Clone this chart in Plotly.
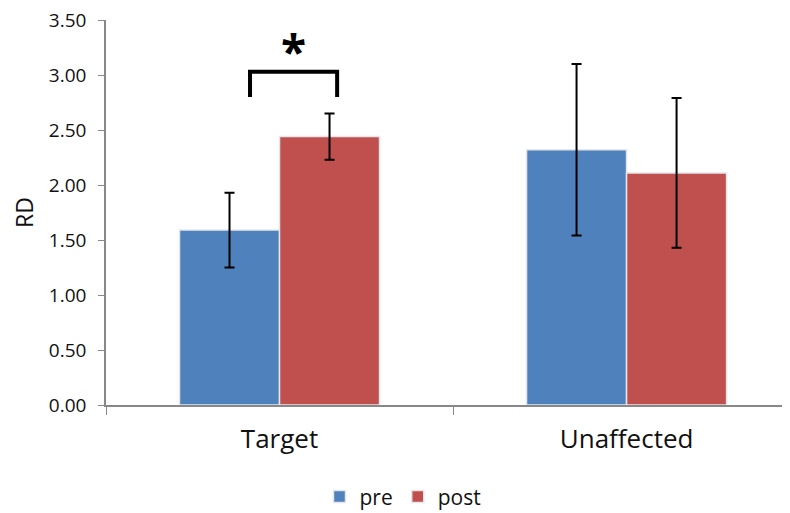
import plotly.graph_objects as go

categories = ["Target", "Unaffected"]
pre_values = [1.59, 2.32]
post_values = [2.44, 2.11]
pre_err = [0.34, 0.78]
post_err = [0.21, 0.68]
series_names = ["pre", "post"]
y_ticks = [0, 0.5, 1.0, 1.5, 2.0, 2.5, 3.0, 3.5]

BLUE = "#4F81BD"
RED = "#C0504D"
FONT = "Open Sans"

fig = go.Figure()
for name, vals, errs, col in [(series_names[0], pre_values, pre_err, BLUE),
                              (series_names[1], post_values, post_err, RED)]:
    fig.add_trace(go.Bar(
        x=categories, y=vals, name=name,
        marker=dict(color=col, line=dict(color="#e4e6ea", width=1.5)),
        error_y=dict(type="data", array=errs, visible=True,
                     color="black", thickness=2, width=5),
    ))

# significance bracket over Target
bx0, bx1, by_top, by_leg = -0.085, 0.166, 3.03, 2.80
fig.add_shape(type="path",
              path=f"M {bx0},{by_leg} L {bx0},{by_top} L {bx1},{by_top} L {bx1},{by_leg}",
              line=dict(color="black", width=4), xref="x", yref="y")
fig.add_annotation(x=(bx0 + bx1) / 2, y=3.22, text="<b>*</b>", showarrow=False,
                   font=dict(size=46, color="black", family=FONT),
                   xref="x", yref="y", yanchor="middle")

fig.update_layout(
    width=790, height=513,
    margin=dict(l=98, r=0, t=12, b=116, autoexpand=False),
    paper_bgcolor="white", plot_bgcolor="white",
    barmode="group", bargap=0.4236, bargroupgap=0,
    font=dict(family=FONT, color="#111111"),
    showlegend=True,
    legend=dict(orientation="h", x=0.5, xanchor="center", xref="container",
                y=0.047, yanchor="middle", yref="container",
                font=dict(size=21, family=FONT), itemwidth=30,
                traceorder="normal"),
)
fig.update_xaxes(
    type="category", range=[-0.5, 1.494], automargin=False,
    showline=True, linecolor="#888888", linewidth=1.5,
    ticks="outside", tickson="boundaries", ticklen=8, tickcolor="#888888",
    tickfont=dict(size=26, family=FONT, color="#111111"), ticklabelstandoff=10,
    showgrid=False, zeroline=False,
)
fig.update_yaxes(
    range=[0, 3.5], tickvals=y_ticks, tickformat=".2f", automargin=False,
    ticklabeloverflow="allow",
    showline=True, linecolor="#888888", linewidth=1.5,
    ticks="outside", ticklen=6, tickcolor="#888888",
    tickfont=dict(size=19, family=FONT, color="#111111"), ticklabelstandoff=8,
    showgrid=False, zeroline=False,
    title=dict(text="RD", font=dict(size=23, family=FONT, color="#111111"), standoff=12),
)

fig.write_html("out.html")
